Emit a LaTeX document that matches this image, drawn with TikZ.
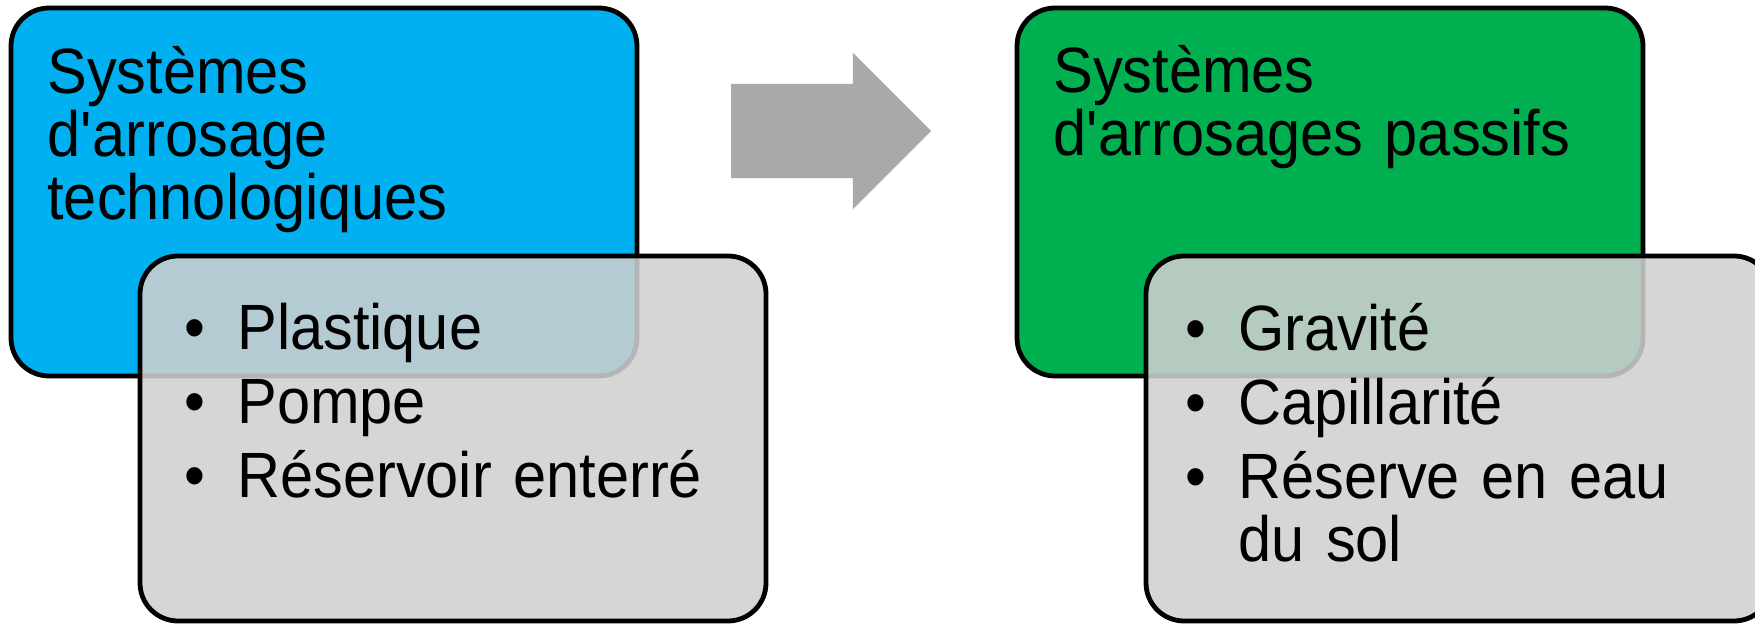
\documentclass[tikz,border=0pt]{standalone}
\usepackage{fontspec}
\setmainfont{Liberation Sans}[FakeStretch=0.93, WordSpace=1.3]
\usetikzlibrary{shapes.arrows}
\definecolor{bleuciel}{HTML}{00B0F0}
\definecolor{vertvif}{HTML}{00B050}
\definecolor{grisclair}{HTML}{D0D0D0}
\definecolor{grisfleche}{HTML}{A9A9A9}
\newcommand{\puce}{\llap{\textbullet\hspace{16pt}}}

\begin{document}
\begin{tikzpicture}
	[
		x=0.5pt, y=-0.5pt,
		Boite/.style={rectangle, rounded corners=19pt, line width=2.4pt, draw=black, inner sep=0pt, outer sep=0pt, anchor=north west},
		Haut/.style={Boite, minimum width=313pt, minimum height=184pt},
		Detail/.style={Boite, fill=grisclair, fill opacity=0.87, minimum width=313pt, minimum height=182.5pt},
		Texte/.style={anchor=base west, align=left, inner sep=0pt, text=black, font=\fontsize{32}{31.5}\selectfont}
	]
	\useasboundingbox[fill=white] (0,0) rectangle (1755,624);
	% boites du haut
	\node [Haut, fill=bleuciel] (techno) at (11,8) {};
	\node [Haut, fill=vertvif] (passif) at (1017,8) {};
	% fleche
	\node [single arrow, fill=grisfleche, inner xsep=0pt, inner ysep=23.4pt, outer sep=0pt, minimum height=100pt, single arrow head extend=15.5pt, single arrow tip angle=90, anchor=tail] (fleche) at (731,131) {};
	% boites grises
	\node [Detail] (detailA) at (140,256) {};
	\node [Detail] (detailB) at (1146,256) {};
	% textes (ancre sur la derniere ligne)
	\node [Texte] (titreA) at (47,220) {Systèmes\\d\textquotesingle arrosage\\technologiques};
	\node [Texte] (titreB) at (1053,156) {Systèmes\\d\textquotesingle arrosages passifs};
	\node [Texte] (listeA) at (237,498) {\puce Plastique\\[5.5pt]\puce Pompe\\[5.5pt]\puce Réservoir enterré};
	\node [Texte] (listeB) at (1238,561) {\puce Gravité\\[5.5pt]\puce Capillarité\\[5.5pt]\puce Réserve en eau\\du sol};
\end{tikzpicture}
\end{document}
